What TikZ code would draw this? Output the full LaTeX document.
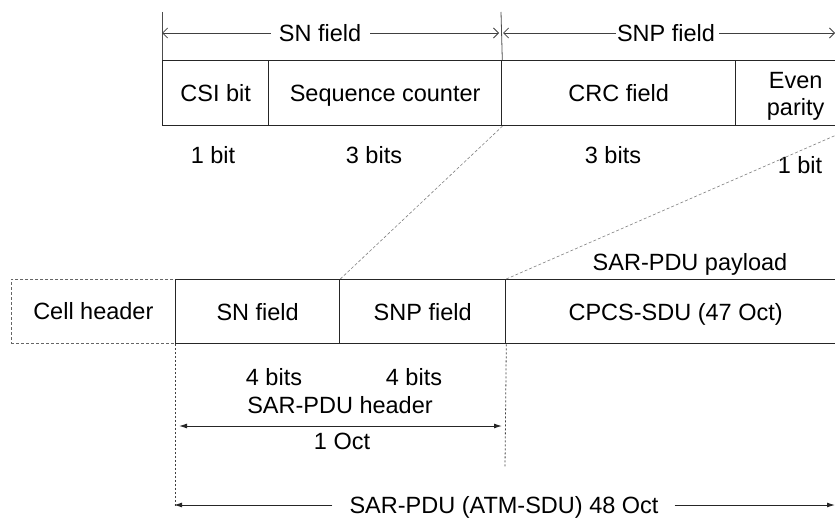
\documentclass[tikz,border=0pt]{standalone}
\usepackage{fontspec}
\setmainfont{Liberation Sans}
\usetikzlibrary{arrows.meta}
\begin{document}
\begin{tikzpicture}[x=1pt,y=-1pt,
  every node/.style={font=\fontsize{23.5}{27}\selectfont, inner sep=0pt, text=black, text height=17pt, text depth=0pt},
  fieldbox/.style={draw=black!85, line width=1.3pt, anchor=north west, minimum height=65pt},
  dashbox/.style={draw=black!60, line width=0.7pt, densely dashed},
  tick/.style={draw=black!70, line width=0.8pt},
  topar/.style={draw=black!75, line width=0.8pt, -{Straight Barb[length=5pt,width=10pt]}},
  botar/.style={draw=black!85, line width=1pt, -{Latex[length=8pt,width=5pt]}},
  diag/.style={draw=black!50, line width=0.6pt, dash pattern=on 3pt off 2pt},
  vdash/.style={draw=black!75, line width=0.8pt, dash pattern=on 2pt off 2pt}]
\useasboundingbox (0,0) rectangle (835,519);
\clip (0,0) rectangle (835,519);
% top row
\node[fieldbox, minimum width=106pt] (csi) at (162,60) {CSI bit};
\node[fieldbox, minimum width=233pt] (seq) at (268,60) {Sequence counter};
\node[fieldbox, minimum width=234pt] (crc) at (501,60) {CRC field};
\node[fieldbox, minimum width=120pt, align=center, text height=44pt] (even) at (735,60) {Even\\parity};
% top brace arrows
\coordinate (tA) at (162,12);
\coordinate (tB) at (501,12);
\coordinate (rEnd) at (835,33);
\draw[tick] (tA) -- (csi.north west);
\draw[tick] (tB) -- (seq.north east);
\node (snf) at (320,33) {SN field};
\node (snpf) at (666,33) {SNP field};
\draw[topar] ([xshift=-8pt]snf.west) -- (tA |- snf.west);
\draw[topar] ([xshift=9pt]snf.east) -- ([xshift=-2pt]tB |- snf.east);
\draw[topar] ([xshift=-1pt]snpf.west) -- ([xshift=2pt]tB |- snpf.west);
\draw[topar] ([xshift=4pt]snpf.east) -- (rEnd);
% bit labels
\node (l1) at (213,155) {1 bit};
\node (l2) at (374,155) {3 bits};
\node (l3) at (613,155) {3 bits};
\node (l4) at (800,165) {1 bit};
% bottom row
\node[fieldbox, dashbox, minimum width=164pt, minimum height=64pt] (cell) at (11,279) {Cell header};
\node[fieldbox, minimum width=164pt, minimum height=64pt] (snb) at (175,279) {SN field};
\node[fieldbox, minimum width=166pt, minimum height=64pt] (snpb) at (339,279) {SNP field};
\node[fieldbox, minimum width=340pt, minimum height=64pt] (cpcs) at (505,279) {CPCS-SDU (47 Oct)};
\node (pay) at (690,262) {SAR-PDU payload};
% expansion lines
\draw[diag] (snb.north east) -- (seq.south east);
\draw[diag] (snpb.north east) -- (even.south east);
% lower annotations
\coordinate (dL) at (175,508);
\coordinate (dR) at (505,467);
\draw[vdash] (snb.south west) -- (dL);
\draw[vdash] (snpb.south east) -- (dR);
\node (b1) at (274,377) {4 bits};
\node (b2) at (414,377) {4 bits};
\node (hdr) at (340,405) {SAR-PDU header};
\coordinate (hL) at (179,426);
\coordinate (hR) at (502,426);
\draw[botar, {Latex[length=8pt,width=5pt]}-{Latex[length=8pt,width=5pt]}] (hL) -- (hR);
\node (oct1) at (342,441) {1 Oct};
\node (tot) at (504,505) {SAR-PDU (ATM-SDU) 48 Oct};
\coordinate (bL) at (174,505);
\coordinate (bR) at (835,505);
\draw[botar] ([xshift=-17pt]tot.west) -- (bL);
\draw[botar] ([xshift=16pt]tot.east) -- (bR);
\end{tikzpicture}
\end{document}
